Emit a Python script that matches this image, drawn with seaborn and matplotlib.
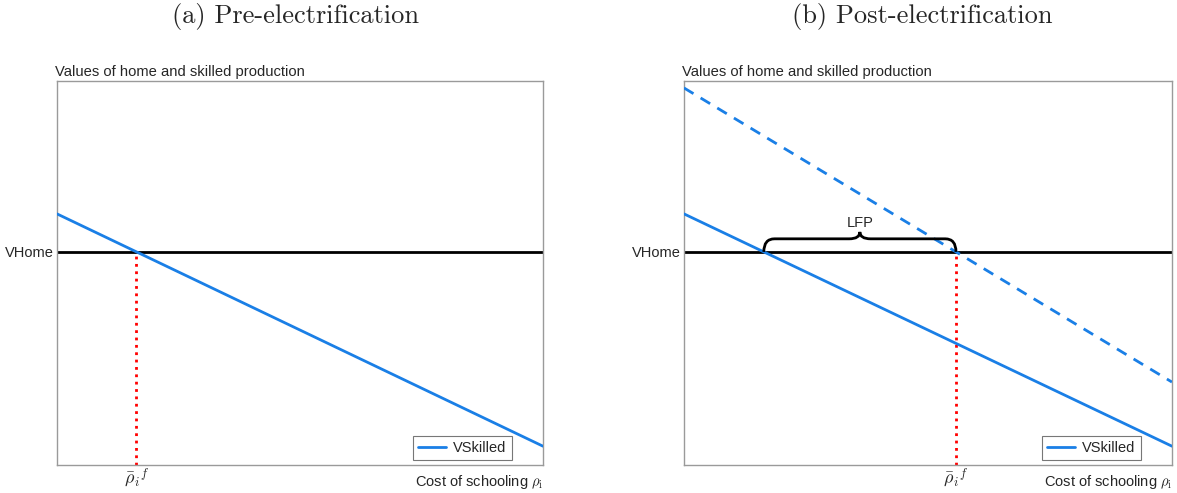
import numpy as np
import pandas as pd
import matplotlib
matplotlib.use("Agg")
import matplotlib.pyplot as plt
from matplotlib.path import Path
from matplotlib.patches import PathPatch
import seaborn as sns

# Stylised values on a unit cost-of-schooling axis
cost = [0.0, 1.0]
vskilled = [0.654, 0.049]
vskilled_post = [0.982, 0.216]
vhome = 0.555

panel_titles = ["(a) Pre-electrification", "(b) Post-electrification"]
legend_label = "VSkilled"
ylabel_text = "Values of home and skilled production"
xlabel_text = r"Cost of schooling $\rho_{\rm i}$"
threshold_label = r"$\bar{\rho}_i{}^f$"
home_label = "VHome"
gap_label = "LFP"

BLUE = "#1a7fe6"

sns.set_theme(style="white")
plt.rcParams["font.family"] = ["Liberation Sans", "DejaVu Sans"]
plt.rcParams["mathtext.fontset"] = "cm"

fig = plt.figure(figsize=(11.77, 4.93), dpi=100)
ax_a = fig.add_axes([0.0484, 0.0568, 0.4129, 0.7789])
ax_b = fig.add_axes([0.5811, 0.0568, 0.4146, 0.7789])


def crossing(vals):
    """x where a straight line through `cost`/`vals` meets the home value."""
    slope = (vals[1] - vals[0]) / (cost[1] - cost[0])
    return cost[0] + (vhome - vals[0]) / slope


def base_panel(ax, cut):
    df = pd.DataFrame({"cost": cost, "value": vskilled})
    sns.lineplot(data=df, x="cost", y="value", ax=ax, color=BLUE,
                 linewidth=2.0, label=legend_label, zorder=3)
    ax.axhline(vhome, color="black", linewidth=2.0, zorder=2)
    ax.plot([cut, cut], [0, vhome], color="red", linestyle=":",
            linewidth=2.0, zorder=1)
    ax.set_xlim(0, 1)
    ax.set_ylim(0, 1)
    ax.set_xticks([cut])
    ax.set_xticklabels([threshold_label], fontsize=13)
    ax.set_yticks([vhome])
    ax.set_yticklabels([home_label], fontsize=10.5)
    ax.tick_params(axis="x", length=0, pad=1)
    ax.tick_params(axis="y", length=0, pad=2.5)
    for sp in ax.spines.values():
        sp.set_color("#9a9a9a")
        sp.set_linewidth(1.0)
    ax.text(-0.004, 1.006, ylabel_text, transform=ax.transAxes,
            ha="left", va="bottom", fontsize=10.6)
    ax.text(1.0, -0.02, xlabel_text, transform=ax.transAxes,
            ha="right", va="top", fontsize=10.5)
    leg = ax.legend(loc="lower right", bbox_to_anchor=(0.936, 0.012),
                    borderaxespad=0.0, frameon=True, fontsize=10.5,
                    handlelength=1.9, borderpad=0.35, handletextpad=0.5,
                    fancybox=False)
    leg.get_frame().set_edgecolor("#555555")
    leg.get_frame().set_linewidth(0.8)


cut_pre = crossing(vskilled)
cut_post = crossing(vskilled_post)

base_panel(ax_a, cut_pre)
base_panel(ax_b, cut_post)

df_post = pd.DataFrame({"cost": cost, "value": vskilled_post})
sns.lineplot(data=df_post, x="cost", y="value", ax=ax_b, color=BLUE,
             linewidth=2.0, linestyle=(0, (4, 3)), zorder=3, legend=False)

for ax in (ax_a, ax_b):
    ax.set_xlabel("")
    ax.set_ylabel("")

# Curly brace spanning the participation gap
x1, x2 = cut_pre, cut_post
xm = 0.5 * (x1 + x2)
y0, yh, ytip = vhome, 0.589, 0.607
r = 0.022
verts = [(x1, y0), (x1, yh), (x1 + r, yh),
         (xm - r, yh), (xm, yh), (xm, ytip),
         (xm, yh), (xm + r, yh),
         (x2 - r, yh), (x2, yh), (x2, y0)]
codes = [Path.MOVETO, Path.CURVE3, Path.CURVE3,
         Path.LINETO, Path.CURVE3, Path.CURVE3,
         Path.CURVE3, Path.CURVE3,
         Path.LINETO, Path.CURVE3, Path.CURVE3]
ax_b.add_patch(PathPatch(Path(verts, codes), facecolor="none",
                         edgecolor="black", linewidth=2.0, zorder=4))
ax_b.text(xm, ytip + 0.005, gap_label, ha="center", va="bottom",
          fontsize=10.5)

fig.text(296 / 1177, 1 - 17 / 493, panel_titles[0], family="cmr10",
         fontsize=19, ha="center", va="center")
fig.text(922 / 1177, 1 - 17 / 493, panel_titles[1], family="cmr10",
         fontsize=19, ha="center", va="center")

fig.savefig("out.png", dpi=100, facecolor="white")
